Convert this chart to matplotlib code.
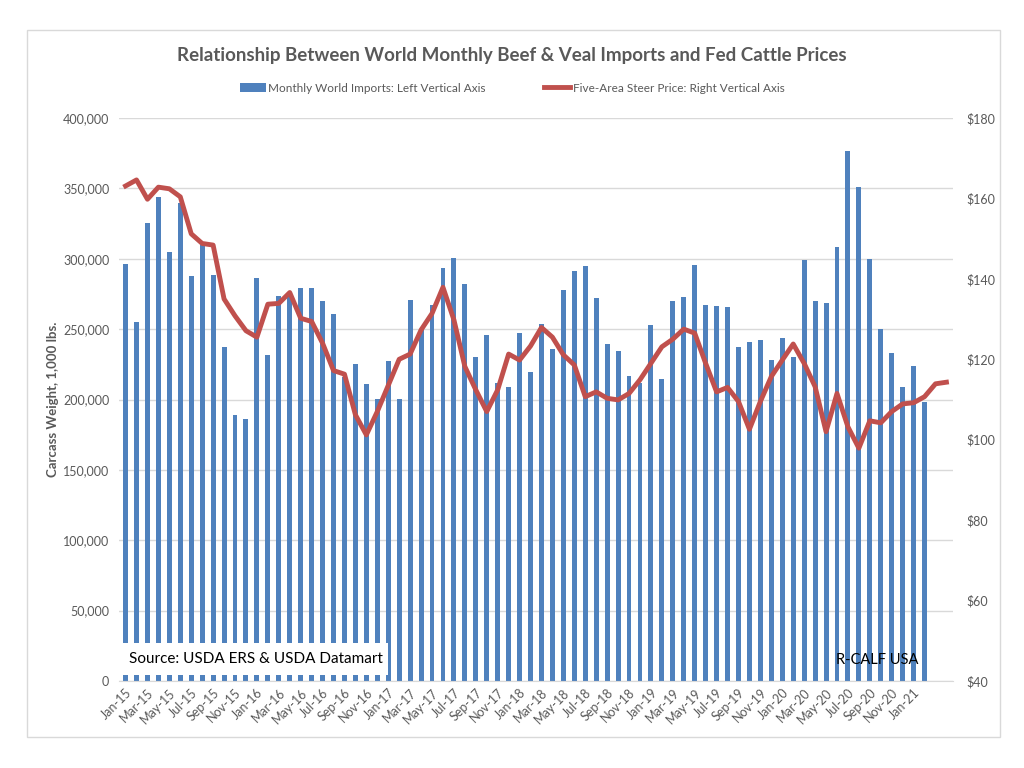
import numpy as np
import matplotlib
matplotlib.use("Agg")
import matplotlib.pyplot as plt
from matplotlib.patches import Rectangle

plt.rcParams['font.family'] = ['Lato', 'DejaVu Sans']

# monthly world beef & veal imports, Jan-15 .. Feb-21 (1,000 lbs carcass weight)
imports = [296300, 254900, 325200, 343900, 305000, 339600, 287700, 310000, 288200, 237300,
           188700, 186100, 286300, 231600, 273500, 275000, 279000, 279000, 270200, 261000,
           216200, 225200, 211000, 200400, 227500, 200100, 270700, 250000, 267100, 293400,
           300800, 281800, 230400, 245800, 212000, 209100, 247000, 219800, 253400, 235900,
           277600, 291100, 294800, 272100, 239200, 234200, 216700, 211500, 252700, 214800,
           270200, 272600, 295600, 267400, 266600, 265500, 237500, 240600, 242100, 228100,
           243900, 230400, 298900, 270200, 268300, 308600, 376300, 350800, 299800, 249900,
           232800, 209100, 224000, 198200]

# five-area steer price, Jan-15 .. Apr-21 ($/cwt)
price = [163.1, 164.6, 159.8, 162.8, 162.4, 160.4, 151.2, 148.8, 148.4, 135.0,
         130.8, 127.1, 125.5, 133.7, 133.9, 136.6, 130.2, 129.4, 124.0, 117.2,
         116.3, 106.2, 101.2, 107.0, 113.5, 120.0, 121.3, 127.3, 131.4, 137.9,
         129.8, 118.2, 112.4, 107.0, 112.4, 121.3, 119.8, 123.3, 127.9, 125.5,
         121.1, 118.6, 110.7, 111.9, 110.3, 109.9, 111.5, 114.9, 119.0, 123.1,
         125.0, 127.5, 126.5, 119.0, 111.9, 113.0, 109.5, 102.6, 109.5, 115.7,
         119.8, 123.8, 119.0, 113.2, 102.0, 111.5, 103.2, 97.9, 104.7, 104.2,
         107.0, 108.9, 109.2, 110.7, 113.9, 114.3]

months = ['Jan', 'Feb', 'Mar', 'Apr', 'May', 'Jun', 'Jul', 'Aug', 'Sep', 'Oct', 'Nov', 'Dec']
labels = ['%s-%02d' % (months[i % 12], 15 + i // 12) for i in range(len(price))]

blue = '#4F81BD'
red = '#C0504D'
gray = '#595959'

fig = plt.figure(figsize=(10.24, 7.68), dpi=100)
fig.patches.append(Rectangle((27 / 1024, 1 - 737 / 768), 973 / 1024, 707 / 768,
                             transform=fig.transFigure, fill=False,
                             edgecolor='#D9D9D9', linewidth=1))

ax = fig.add_axes([119 / 1024, 1 - 681 / 768, 834 / 1024, 563 / 768])
x_bar = np.arange(len(imports))
x_line = np.arange(len(price))
ax.bar(x_bar, imports, width=0.45, color=blue, zorder=2,
       label='Monthly World Imports: Left Vertical Axis')
ax.set_ylim(0, 400000)
ax.set_xlim(-0.6, len(price) - 0.4)
ax.set_yticks(np.arange(0, 400001, 50000))
ax.set_yticklabels(['{:,}'.format(v) for v in range(0, 400001, 50000)])
ax.grid(axis='y', color='#D9D9D9', linewidth=1, zorder=0)
ax.set_axisbelow(True)
ax.set_xticks(x_line[:73:2])
ax.set_xticklabels(labels[:73:2], rotation=45, ha='right', rotation_mode='anchor')
ax.tick_params(axis='x', length=0, labelsize=9, labelcolor=gray, pad=4)
ax.tick_params(axis='y', length=0, labelsize=9, labelcolor=gray, pad=7)
for s in ['top', 'left', 'right']:
    ax.spines[s].set_visible(False)
ax.spines['bottom'].set_color('#D9D9D9')
ax.set_ylabel('Carcass Weight, 1,000 lbs.', fontsize=9.5, color=gray, fontweight='bold')
ax.yaxis.set_label_coords(-60 / 834, 0.5)

ax2 = ax.twinx()
ax2.plot(x_line, price, color=red, linewidth=3.5, solid_joinstyle='round',
         label='Five-Area Steer Price: Right Vertical Axis')
ax2.set_ylim(40, 180)
ax2.set_yticks(np.arange(40, 181, 20))
ax2.set_yticklabels(['$%d' % v for v in range(40, 181, 20)])
ax2.tick_params(axis='y', length=0, labelsize=9, labelcolor=gray, pad=10)
for s in ['top', 'left', 'right', 'bottom']:
    ax2.spines[s].set_visible(False)

fig.text(0.5, 1 - 55 / 768, 'Relationship Between World Monthly Beef & Veal Imports and Fed Cattle Prices',
         ha='center', va='center', fontsize=13.5, fontweight='bold', color=gray)

h1, l1 = ax.get_legend_handles_labels()
h2, l2 = ax2.get_legend_handles_labels()
fig.legend(h1 + h2, l1 + l2, loc='center', bbox_to_anchor=(0.5, 1 - 88 / 768), ncol=2,
           frameon=False, fontsize=8.5, labelcolor=gray, handlelength=2.2,
           handletextpad=0.2, columnspacing=5)

# white source box sitting just above the axis line
ax2.add_patch(Rectangle((4 / 834, 6 / 563), 265 / 834, 32 / 563, transform=ax.transAxes,
                        facecolor='white', edgecolor='none', zorder=4))
ax2.text(136.5 / 834, 22 / 563, 'Source: USDA ERS & USDA Datamart', transform=ax.transAxes,
         fontsize=11, color='black', ha='center', va='center', zorder=5)
ax2.text(758 / 834, 21 / 563, 'R-CALF USA', transform=ax.transAxes, fontsize=10.5,
         color='black', ha='center', va='center', zorder=5)

fig.savefig('out.png', dpi=100)
